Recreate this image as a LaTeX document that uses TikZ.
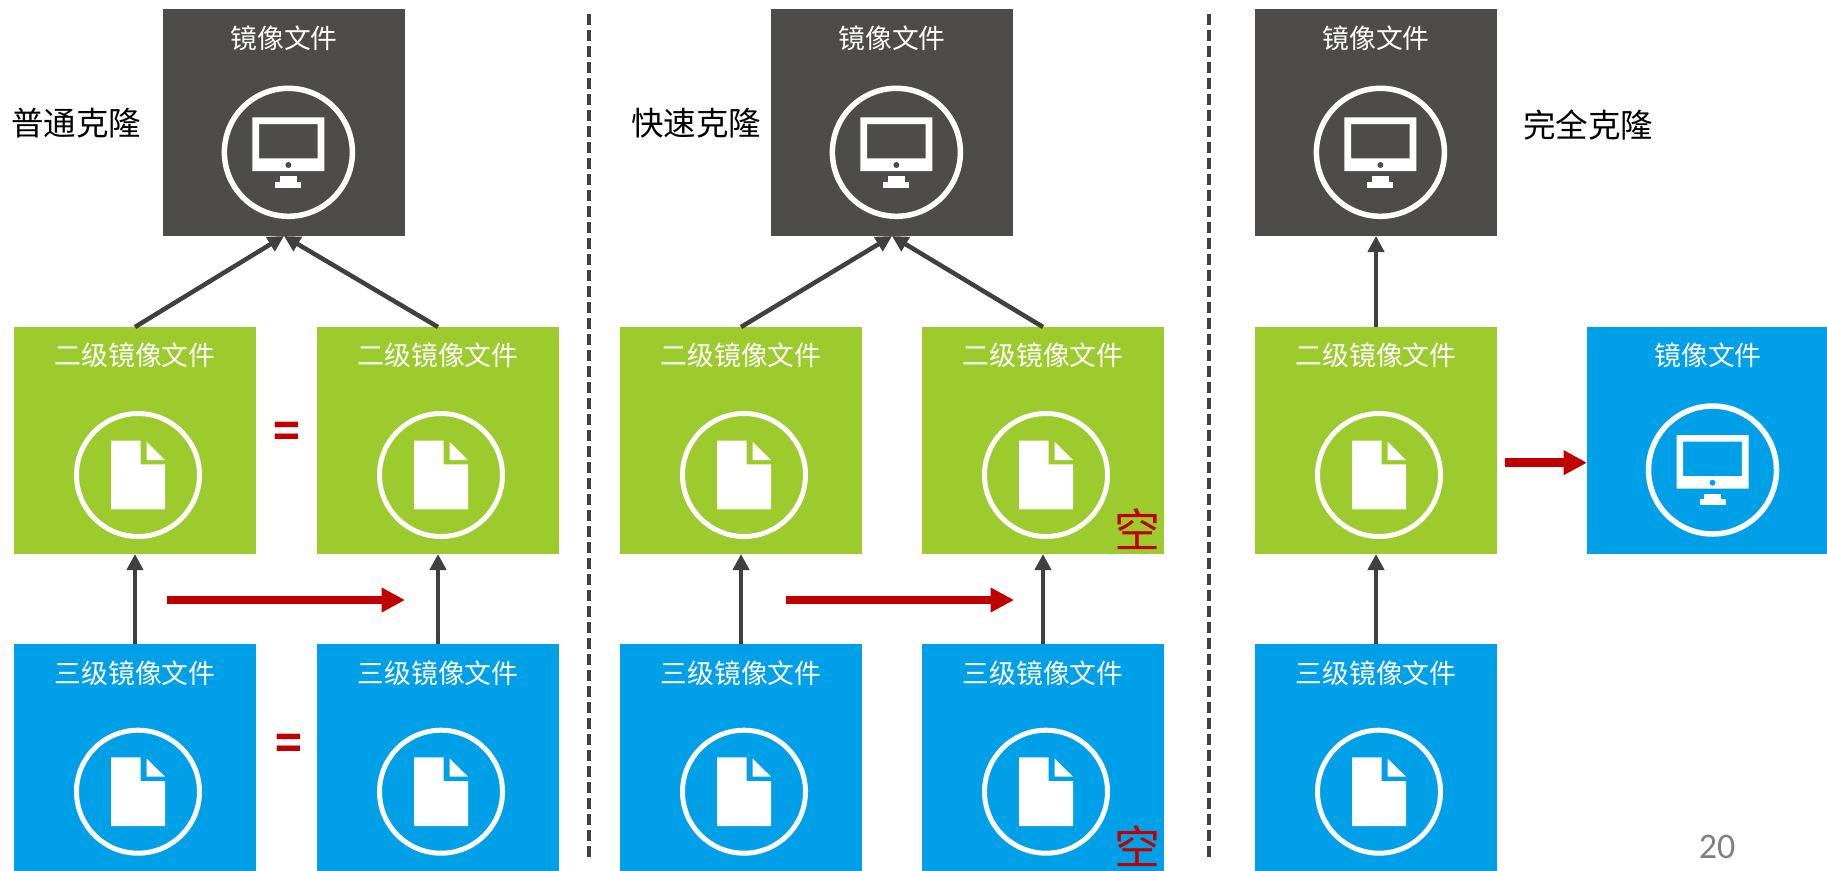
\documentclass[tikz,border=0pt]{standalone}
\usepackage{fontspec}
\setmainfont{Noto Sans CJK SC}
\newfontfamily\pagefont{Carlito}
\usetikzlibrary{calc,arrows.meta}

\definecolor{darkbox}{HTML}{4D4C4A}
\definecolor{greenbox}{HTML}{9DCA2D}
\definecolor{bluebox}{HTML}{00A0E8}
\definecolor{darkline}{HTML}{404040}
\definecolor{redmark}{HTML}{C00000}

\tikzset{
  box/.style={rectangle, draw=none, inner sep=0pt, outer sep=0pt, minimum width=242pt, minimum height=227pt},
  boxtext/.style={text=white, font=\fontsize{26.8}{30}\selectfont, inner sep=0pt},
  sidetext/.style={text=black, font=\fontsize{32.5}{36}\selectfont, inner sep=0pt},
  emptytext/.style={text=redmark, font=\fontsize{46}{48}\selectfont, inner sep=0pt},
  eqtext/.style={text=redmark, font=\bfseries\fontsize{44}{48}\selectfont, inner sep=0pt},
  link/.style={draw=darkline, line width=4.5pt, -{Triangle[length=16pt,width=16pt]}},
  redarrow/.style={draw=redmark, line width=8.5pt, -{Triangle[length=23.5pt,width=23.5pt]}},
  divider/.style={draw=darkline, line width=4pt, dash pattern=on 11pt off 5pt},
  pics/monitor/.style={code={
    \draw[white, line width=5.5pt] (0,0) circle (64pt);
    \fill[white, even odd rule] (-36,-35) rectangle (36,18.7) (-29.3,-28.3) rectangle (29.3,6);
    \fill[pic actions] (0,12.7) circle (3pt);
    \fill[white] (-8.3,23.7) rectangle (8.3,29.4);
    \fill[white] (-13,29.4) rectangle (13,35.4);
  }},
  pics/document/.style={code={
    \draw[white, line width=5pt] (0,0) circle (61.5pt);
    \fill[white] (-27,-34.3) -- (2.7,-34.3) -- (2.7,-10.7) -- (27,-10.7) -- (27,34.3) -- (-27,34.3) -- cycle;
    \fill[white] (8.5,-33.3) -- (27,-15) -- (8.5,-15) -- cycle;
  }},
}

\begin{document}
\begin{tikzpicture}[x=1pt,y=-1pt]
  \useasboundingbox (0,0) rectangle (1827,870);

  %% Top row: the backing image of each clone
  \foreach \n/\x in {1/284,2/892,3/1376}
  {
    \node[box,fill=darkbox] (IMG\n) at (\x,122.5) {};
    \node[boxtext] (IMGT\n) at ($(IMG\n.north)+(0,29.7)$) {镜像文件};
    \pic[fill=darkbox] at ($(IMG\n.north)+(4.4,143.3)$) {monitor};
  }

  %% Second row: green boxes
  \foreach \n/\x in {1/135,2/438,3/741,4/1043,5/1376}
  {
    \node[box,fill=greenbox] (SEC\n) at (\x,440.5) {};
    \node[boxtext] (SECT\n) at ($(SEC\n.north)+(0,28.3)$) {二级镜像文件};
    \pic at ($(SEC\n.north)+(3,148)$) {document};
  }

  %% Third row: blue boxes
  \foreach \n/\x in {1/135,2/438,3/741,4/1043,5/1376}
  {
    \node[box,fill=bluebox] (THD\n) at (\x,757.5) {};
    \node[boxtext] (THDT\n) at ($(THD\n.north)+(0,29.7)$) {三级镜像文件};
    \pic at ($(THD\n.north)+(3,147.7)$) {document};
  }

  %% Full clone result, runs off the right edge
  \node[box,fill=bluebox] (FULL) at (1708,440.5) {};
  \node[boxtext] (FULLT) at ($(FULL.north)+(0,28.3)$) {镜像文件};
  \pic[fill=bluebox] at (1712.5,470) {monitor};

  %% Links between the layers
  \foreach \a/\b in {1/1,2/1,3/2,4/2,5/3}
  {
    \draw[link] (SEC\a.north) -- (IMG\b.south);
  }
  \foreach \a in {1,...,5}
  {
    \draw[link] (THD\a.north) -- (SEC\a.south);
  }

  %% Red arrows
  \coordinate (RA1) at (167,600);
  \coordinate (RB1) at (405,600);
  \coordinate (RA2) at (786,600);
  \coordinate (RB2) at (1014,600);
  \coordinate (RA3) at (1505,462.7);
  \foreach \n in {1,2}
  {
    \draw[redarrow] (RA\n) -- (RB\n);
  }
  \draw[redarrow] (RA3) -- (FULL.west|-RA3);

  %% Dashed dividers
  \coordinate (DA1) at (589,14);
  \coordinate (DB1) at (589,858);
  \coordinate (DA2) at (1209,14);
  \coordinate (DB2) at (1209,858);
  \draw[divider] (DA1) -- (DB1);
  \draw[divider] (DA2) -- (DB2);

  %% Labels
  \node[sidetext] (PLAIN) at (76,123) {普通克隆};
  \node[sidetext] (FAST) at (696,123) {快速克隆};
  \node[sidetext] (WHOLE) at (1588,125) {完全克隆};
  \node[eqtext] (EQ1) at (287,435) {=};
  \node[eqtext] (EQ2) at (289,747) {=};
  \node[emptytext] (NIL1) at (1137,529) {空};
  \node[emptytext] (NIL2) at (1137,846) {空};
  \node[text=gray, font=\pagefont\fontsize{36}{40}\selectfont, inner sep=0pt] (PAGENO) at (1717,847) {20};
\end{tikzpicture}
\end{document}
